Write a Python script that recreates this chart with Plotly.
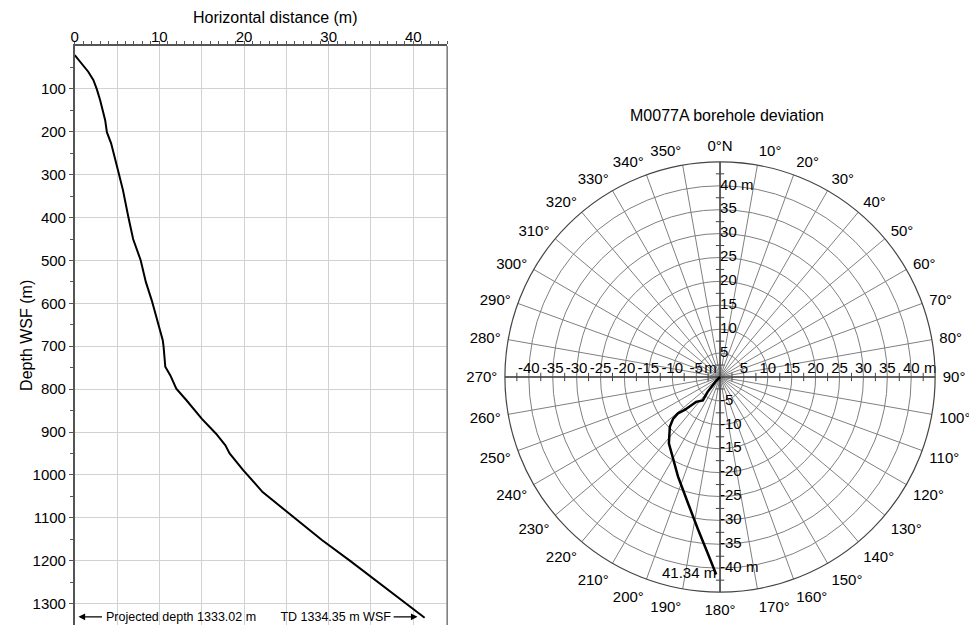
import numpy as np
import plotly.graph_objects as go

# ---------------- data ----------------
# Left panel: vertical section (depth vs horizontal distance)
depth_m = [21, 40, 60, 79, 100, 126, 173, 201, 227, 281, 336, 400, 450, 500, 550,
           593, 639, 686, 701, 748, 768, 799, 826, 869, 904, 931, 950, 989, 1040,
           1100, 1152, 1200, 1250, 1290, 1333.02]
hdist_m = [0.0, 0.8, 1.6, 2.2, 2.6, 3.0, 3.6, 3.8, 4.3, 5.0, 5.7, 6.35, 6.9, 7.8, 8.4,
           9.1, 9.7, 10.4, 10.5, 10.7, 11.3, 12.0, 13.2, 15.0, 16.7, 17.8, 18.3, 19.9, 22.2,
           26.0, 29.2, 32.5, 35.8, 38.4, 41.34]

# Right panel: plan view (easting / northing offsets from wellhead, m)
east_m = [0.0, -0.8, -1.5, -2.6, -3.6, -5.0, -6.0, -7.4, -8.8, -9.8, -10.5, -10.7,
          -8.8, -6.7, -4.6, -2.6, -0.8]
north_m = [0.0, -0.8, -1.7, -3.1, -4.9, -5.2, -5.9, -6.9, -7.6, -8.7, -10.4, -13.9,
           -20.8, -26.4, -31.9, -36.8, -41.33]

x_major = [0, 5, 10, 15, 20, 25, 30, 35, 40]
x_labels = ["0", "", "10", "", "20", "", "30", "", "40"]
y_major = [100, 200, 300, 400, 500, 600, 700, 800, 900, 1000, 1100, 1200, 1300]
y_labels = [str(v) for v in y_major]

az_vals = list(range(0, 360, 10))
az_labels = ["0°N"] + [f"{a}°" for a in az_vals[1:]]
ring_vals = [5, 10, 15, 20, 25, 30, 35, 40]
tick_r = [2.5, 7.5, 12.5, 17.5, 22.5, 27.5, 32.5, 37.5, 42.5]

right_labels = ["5", "10", "15", "20", "25", "30", "35", "40"]
left_labels = ["-5", "-10", "-15", "-20", "-25", "-30", "-35", "-40"]
top_labels = ["5", "10", "15", "20", "25", "30", "35", "40 m"]
bottom_labels = ["-5", "-10", "-15", "-20", "-25", "-30", "-35", "-40 m"]
unit_r = [2.0, 44.0]
unit_theta = [270, 90]
unit_text = ["m", "m"]

end_label = "41.34 m"
NB = "\u00a0"
proj_text = "Projected depth 1333.02 m" + NB * 7 + "TD 1334.35 m WSF"

# ---------------- derived polar coords ----------------
e = np.array(east_m)
n = np.array(north_m)
r_path = np.hypot(e, n)
th_path = np.degrees(np.arctan2(e, n)) % 360

FONT = "Liberation Sans, Arial, Helvetica, sans-serif"
W, H = 969, 625
GRID_P = "#808080"
AX = "#444444"

fig = go.Figure()

# ---- left panel ----
fig.add_trace(go.Scatter(x=hdist_m, y=depth_m, mode="lines",
                         line=dict(color="black", width=2), xaxis="x", yaxis="y",
                         hoverinfo="skip"))

# ---- right panel (polar) ----
fig.add_trace(go.Scatterpolar(r=[45, 0, 45], theta=[0, 0, 180], mode="lines",
                              line=dict(color=AX, width=1.5), subplot="polar"))
fig.add_trace(go.Scatterpolar(r=[45, 0, 45], theta=[90, 90, 270], mode="lines",
                              line=dict(color=AX, width=1.5), subplot="polar"))
fig.add_trace(go.Scatterpolar(r=tick_r * 2, theta=[0] * len(tick_r) + [180] * len(tick_r),
                              mode="markers", subplot="polar",
                              marker=dict(symbol="line-ew", size=6, line=dict(color=AX, width=1))))
fig.add_trace(go.Scatterpolar(r=tick_r * 2, theta=[90] * len(tick_r) + [270] * len(tick_r),
                              mode="markers", subplot="polar",
                              marker=dict(symbol="line-ns", size=6, line=dict(color=AX, width=1))))

lab_font = dict(family=FONT, size=15, color="black")
fig.add_trace(go.Scatterpolar(r=ring_vals, theta=[90] * 8, mode="text", text=right_labels,
                              textposition="top center", textfont=lab_font, subplot="polar",
                              cliponaxis=False))
fig.add_trace(go.Scatterpolar(r=ring_vals, theta=[270] * 8, mode="text", text=left_labels,
                              textposition="top center", textfont=lab_font, subplot="polar",
                              cliponaxis=False))
fig.add_trace(go.Scatterpolar(r=unit_r, theta=unit_theta, mode="text", text=unit_text,
                              textposition="top center", textfont=lab_font, subplot="polar",
                              cliponaxis=False))
fig.add_trace(go.Scatterpolar(r=ring_vals, theta=[0] * 8, mode="text", text=top_labels,
                              textposition="middle right", textfont=lab_font, subplot="polar",
                              cliponaxis=False))
fig.add_trace(go.Scatterpolar(r=ring_vals, theta=[180] * 8, mode="text", text=bottom_labels,
                              textposition="middle right", textfont=lab_font, subplot="polar",
                              cliponaxis=False))

fig.add_trace(go.Scatterpolar(r=r_path, theta=th_path, mode="lines",
                              line=dict(color="black", width=2.5), subplot="polar"))
fig.add_trace(go.Scatterpolar(r=[r_path[-1]], theta=[th_path[-1]], mode="text",
                              text=[end_label], textposition="middle left",
                              textfont=lab_font, subplot="polar", cliponaxis=False))

fig.update_layout(
    width=W, height=H,
    margin=dict(l=0, r=0, t=0, b=0),
    paper_bgcolor="white", plot_bgcolor="white",
    showlegend=False,
    font=dict(family=FONT, size=15, color="black"),
    xaxis=dict(domain=[71 / W, 445 / W], range=[0, 44], side="top", anchor="y",
               tickmode="array", tickvals=x_major, ticktext=x_labels,
               showgrid=True, gridcolor="#d2d2d2", gridwidth=1, zeroline=False,
               showline=True, linecolor="#555555", linewidth=1.5,
               ticks="outside", ticklen=3, tickcolor="#555555", ticklabelstandoff=-7,
               minor=dict(tickvals=list(range(0, 45)), ticks="outside", ticklen=3,
                          tickcolor="#555555", showgrid=False),
               tickfont=dict(size=15)),
    yaxis=dict(domain=[0, 1 - 46 / H], range=[1350, 0], anchor="x",
               tickmode="array", tickvals=y_major, ticktext=y_labels,
               showgrid=True, gridcolor="#d2d2d2", gridwidth=1, zeroline=False,
               showline=True, linecolor="#555555", linewidth=1.5,
               ticks="outside", ticklen=4, tickcolor="#555555",
               minor=dict(tickvals=list(range(50, 1400, 100)), ticks="outside", ticklen=3,
                          tickcolor="#555555", showgrid=False),
               tickfont=dict(size=15)),
    polar=dict(
        domain=dict(x=[503 / W, 935 / W], y=[1 - 593 / H, 1 - 161 / H]),
        bgcolor="rgba(0,0,0,0)",
        radialaxis=dict(range=[0, 45], tickmode="array", tickvals=ring_vals,
                        showticklabels=False, ticks="", showline=False,
                        gridcolor=GRID_P, gridwidth=1),
        angularaxis=dict(rotation=90, direction="clockwise", tickmode="array",
                         tickvals=az_vals, ticktext=az_labels,
                         ticks="outside", ticklen=4, tickcolor="rgba(0,0,0,0)",
                         showline=True, linecolor=AX, linewidth=1.2,
                         gridcolor=GRID_P, gridwidth=1,
                         tickfont=dict(size=15)),
    ),
    shapes=[dict(type="line", xref="x domain", yref="y domain", x0=1, x1=1, y0=0, y1=1,
                 line=dict(color="#777777", width=1.5))],
    annotations=[
        dict(text="Horizontal distance (m)", xref="paper", yref="paper",
             x=272.5 / W, y=1 - 17 / H, showarrow=False, font=dict(size=16),
             xanchor="center", yanchor="middle"),
        dict(text="Depth WSF (m)", xref="paper", yref="paper", x=22 / W, y=1 - 335 / H,
             showarrow=False, textangle=-90, font=dict(size=16),
             xanchor="center", yanchor="middle"),
        dict(text="M0077A borehole deviation", xref="paper", yref="paper",
             x=726 / W, y=1 - 116 / H, showarrow=False, font=dict(size=16),
             xanchor="center", yanchor="middle"),
        dict(text=proj_text, xref="x", yref="y", x=20.5, y=1331, showarrow=False,
             font=dict(size=12.5), xanchor="center", yanchor="middle"),
        dict(text="", xref="x", yref="y", x=0.45, y=1331, axref="x", ayref="y",
             ax=3.4, ay=1331, showarrow=True, arrowhead=2, arrowsize=1.2,
             arrowwidth=1.1, arrowcolor="black"),
        dict(text="", xref="x", yref="y", x=40.5, y=1331, axref="x", ayref="y",
             ax=37.5, ay=1331, showarrow=True, arrowhead=2, arrowsize=1.2,
             arrowwidth=1.1, arrowcolor="black"),
    ],
)

fig.write_html("out.html")
